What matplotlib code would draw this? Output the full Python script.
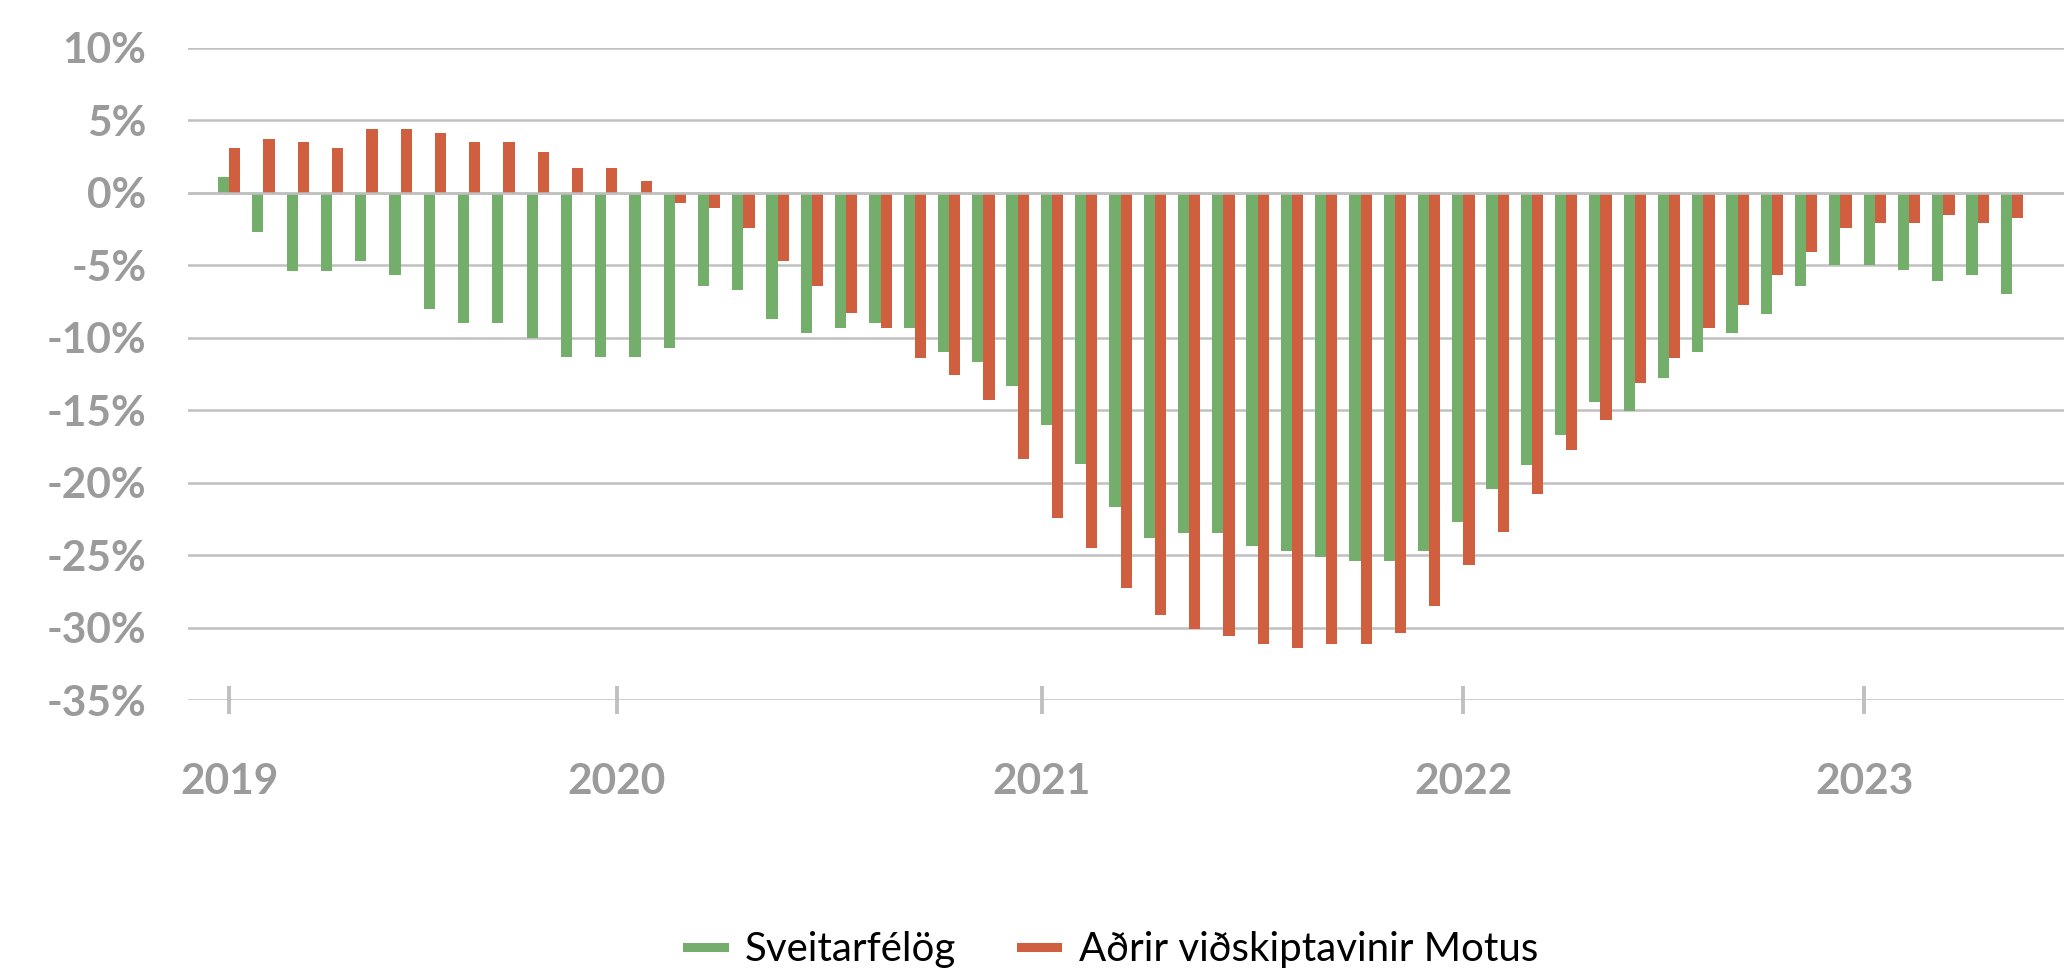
import numpy as np
import matplotlib
matplotlib.use("Agg")
import matplotlib.pyplot as plt
from matplotlib.lines import Line2D

# monthly change, Jan 2019 - May 2023 (%)
sveitarfelog = [1.1, -2.7, -5.4, -5.4, -4.7, -5.7, -8.0, -9.0, -9.0, -10.0, -11.3, -11.3,
                -11.3, -10.7, -6.4, -6.7, -8.7, -9.7, -9.3, -9.0, -9.3, -11.0, -11.7, -13.3,
                -16.0, -18.7, -21.7, -23.8, -23.45, -23.45, -24.4, -24.75, -25.1, -25.4, -25.4, -24.75,
                -22.7, -20.45, -18.75, -16.7, -14.4, -15.05, -12.75, -11.0, -9.7, -8.35, -6.4, -5.0,
                -5.0, -5.35, -6.05, -5.7, -6.95]
adrir = [3.1, 3.7, 3.5, 3.1, 4.4, 4.4, 4.1, 3.5, 3.5, 2.8, 1.7, 1.7,
         0.8, -0.7, -1.05, -2.4, -4.7, -6.4, -8.3, -9.3, -11.4, -12.6, -14.3, -18.4,
         -22.45, -24.5, -27.3, -29.1, -30.1, -30.6, -31.1, -31.4, -31.1, -31.1, -30.4, -28.5,
         -25.7, -23.4, -20.8, -17.75, -15.7, -13.1, -11.4, -9.3, -7.75, -5.65, -4.1, -2.4,
         -2.1, -2.1, -1.5, -2.1, -1.75]
series_names = ["Sveitarfélög", "Aðrir viðskiptavinir Motus"]
year_labels = ["2019", "2020", "2021", "2022", "2023"]
year_pos = [0, 11.3, 23.7, 36.0, 47.7]
y_ticks = [10, 5, 0, -5, -10, -15, -20, -25, -30, -35]
y_labels = ["10%", "5%", "0%", "-5%", "-10%", "-15%", "-20%", "-25%", "-30%", "-35%"]

green = "#73ae6a"
red = "#cf5f3e"
grid_c = "#c0c0c0"
label_c = "#9b9b9b"

fig = plt.figure(figsize=(20.64, 9.77), dpi=100)
ax = fig.add_axes([0.0911, 0.2835, 0.9089, 0.6674])

x = np.arange(len(sveitarfelog))
w = 0.327
ax.bar(x - w / 2, sveitarfelog, width=w, color=green, zorder=2)
ax.bar(x + w / 2, adrir, width=w, color=red, zorder=2)
ax.axhline(0, color=grid_c, lw=1.8, zorder=3)

ax.set_ylim(-35, 10)
ax.set_xlim(-1.2, 53.52)
ax.set_yticks(y_ticks)
ax.set_yticklabels(y_labels)
ax.yaxis.grid(True, color=grid_c, lw=1.8, zorder=0)
ax.set_axisbelow(True)
ax.tick_params(axis="y", length=0, pad=30, labelsize=30.5, labelcolor=label_c)

ax.set_xticks(year_pos)
ax.set_xticklabels(year_labels)
ax.tick_params(axis="x", direction="inout", length=20, width=2.8, color=grid_c,
               pad=35, labelsize=30.5, labelcolor=label_c)

for lab in ax.get_xticklabels() + ax.get_yticklabels():
    lab.set_fontfamily("Lato")
    lab.set_fontweight("bold")

for s in ax.spines.values():
    s.set_visible(False)

handles = [Line2D([0], [0], color=green, lw=6.5), Line2D([0], [0], color=red, lw=6.5)]
fig.legend(handles, series_names, loc="center", bbox_to_anchor=(0.539, 0.028), ncol=2,
           frameon=False, handlelength=0.91, handletextpad=0.53, columnspacing=1.6,
           prop={"family": "Lato", "size": 29})

fig.savefig("out.png", dpi=100)
